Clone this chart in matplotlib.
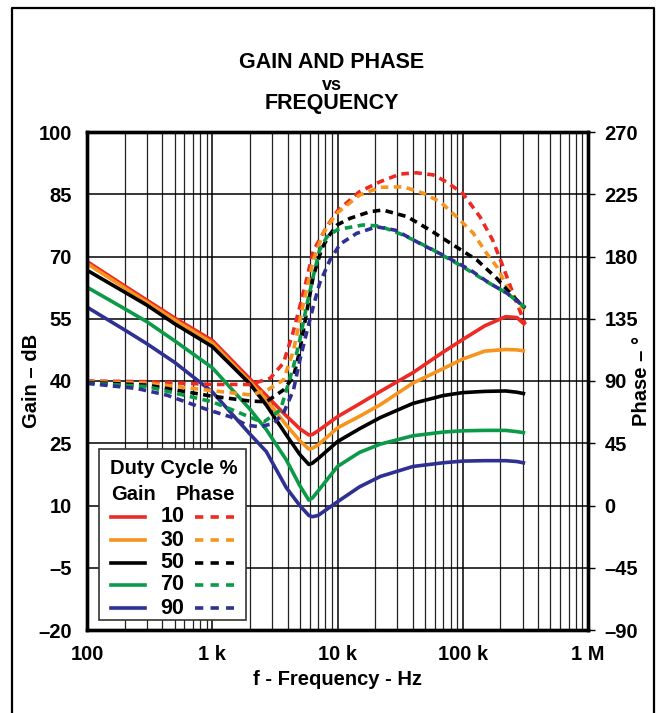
import matplotlib
matplotlib.use("Agg")
import matplotlib.pyplot as plt
from matplotlib.lines import Line2D
from matplotlib.patches import Rectangle
from matplotlib.ticker import FixedLocator, FixedFormatter, NullFormatter, LogLocator

plt.rcParams["font.family"] = ["Liberation Sans", "DejaVu Sans"]
plt.rcParams["font.weight"] = "bold"

DUTY = ["10", "30", "50", "70", "90"]
COLORS = ["#ee2a24", "#f7941d", "#000000", "#0a9a48", "#2e3192"]

# gain curves (dB) -- one frequency grid for all five
GAIN_F = [100, 200, 300, 500, 1000, 2000, 2700, 3900, 5000, 5900, 6300, 7000,
          10000, 15000, 22000, 40000, 70000, 100000, 150000, 220000, 270000, 315000]
GAIN_10 = [68.8, 62.9, 59.5, 55.2, 49.8, 40.5, 36.5, 31.6, 28.5, 27.0, 27.1, 28.0,
           31.4, 34.5, 37.5, 42.0, 47.0, 50.0, 53.3, 55.5, 55.3, 53.5]
GAIN_30 = [68.3, 62.4, 59.0, 54.7, 49.2, 39.8, 35.5, 29.4, 25.6, 23.6, 23.8, 24.6,
           28.7, 31.5, 34.3, 39.5, 43.0, 45.3, 47.2, 47.6, 47.5, 47.2]
GAIN_50 = [66.7, 61.4, 58.3, 53.8, 48.3, 39.3, 34.2, 27.0, 22.3, 19.9, 20.2, 21.3,
           25.4, 28.5, 31.2, 34.6, 36.5, 37.2, 37.5, 37.6, 37.3, 36.9]
GAIN_70 = [62.6, 57.4, 54.3, 49.7, 43.2, 33.2, 28.3, 21.0, 14.8, 11.3, 11.8, 13.5,
           19.4, 22.8, 24.8, 26.8, 27.7, 28.0, 28.1, 28.1, 27.8, 27.5]
GAIN_90 = [57.8, 52.3, 49.0, 44.5, 37.4, 27.2, 23.0, 14.3, 10.0, 7.6, 7.3, 7.6,
           10.9, 14.5, 17.0, 19.4, 20.3, 20.7, 20.8, 20.8, 20.6, 20.2]

# phase curves (degrees)
PH_F_10 = [100, 300, 1000, 2000, 2900, 3700, 4400, 5000, 5650, 6400, 8200, 10000,
           15000, 21800, 31600, 42800, 58000, 74000, 100000, 137000, 173000,
           210000, 246000, 315000]
PH_10 = [90, 89.5, 87.5, 87.5, 92, 103, 124.6, 143.7, 163, 184, 201.5, 213,
         226.9, 234, 239.6, 240.5, 239, 234, 225.6, 208.8, 192, 172.6, 155.8, 131]

PH_F_30 = [100, 300, 1000, 2000, 2700, 3700, 4450, 5000, 5650, 6400, 7700, 9800,
           15000, 21800, 33600, 48000, 66000, 89000, 121000, 155000, 187000,
           226000, 286000, 315000]
PH_30 = [89.5, 88.5, 83, 80, 83, 90.7, 112, 134, 155.8, 177.4, 197, 211,
         224.4, 230, 230.4, 225.8, 219.6, 208.8, 197, 182.3, 172.6, 158, 143.7, 142]

PH_F_50 = [100, 300, 1000, 2000, 2700, 3700, 4450, 5000, 5650, 6400, 7500, 8700,
           10000, 12600, 18200, 23000, 36000, 55000, 84000, 130000, 187000,
           253000, 315000]
PH_50 = [89, 87, 79, 75.5, 75, 83.5, 93, 112, 139, 165.4, 186, 196,
         203, 207.6, 212.4, 213.6, 208.8, 199, 188.3, 177.4, 164.2, 151, 142.7]

PH_F_70 = [100, 300, 1000, 1570, 2270, 2600, 3500, 4450, 5000, 5650, 6400, 7200,
           8200, 10000, 16000, 21800, 33600, 55000, 100000, 164000, 226000, 315000]
PH_70 = [88.5, 86, 75, 67.8, 61.8, 60.6, 69, 100.4, 119.6, 143.7, 165.4, 184.7,
         194, 199.5, 202.8, 202, 195.5, 185.9, 172.6, 160.6, 153.4, 143.2]

PH_F_90 = [100, 250, 433, 900, 1400, 1900, 2400, 3100, 3700, 4450, 5000, 5650,
           6400, 7200, 8700, 10500, 14200, 20500, 29000, 48000, 74000, 115000,
           164000, 226000, 315000]
PH_90 = [88.3, 84.6, 79.8, 69.5, 64.1, 58, 56.9, 59.4, 66.7, 83.5, 105, 124.6,
         143.7, 160.6, 177.4, 189, 196.7, 201.5, 199, 188.3, 179.8, 170.2,
         160.6, 153.4, 143.2]

GAINS = [GAIN_10, GAIN_30, GAIN_50, GAIN_70, GAIN_90]
PHASES = [(PH_F_10, PH_10), (PH_F_30, PH_30), (PH_F_50, PH_50),
          (PH_F_70, PH_70), (PH_F_90, PH_90)]

GAIN_TICKS = [-20, -5, 10, 25, 40, 55, 70, 85, 100]
GAIN_LABELS = ["\u201320", "\u20135", "10", "25", "40", "55", "70", "85", "100"]
PHASE_TICKS = [-90, -45, 0, 45, 90, 135, 180, 225, 270]
PHASE_LABELS = ["\u201390", "\u201345", "0", "45", "90", "135", "180", "225", "270"]
FREQ_TICKS = [100, 1e3, 1e4, 1e5, 1e6]
FREQ_LABELS = ["100", "1 k", "10 k", "100 k", "1 M"]

LW = 2.6
DASH = (2.1, 1.5)
FS = 14.5

fig = plt.figure(figsize=(6.63, 7.13), dpi=100)
ax = fig.add_axes([87 / 663, 1 - 630 / 713, 501 / 663, 498 / 713])
ax2 = ax.twinx()

ax.set_xscale("log")
ax.set_xlim(100, 1e6)
ax.set_ylim(-20, 100)
ax2.set_ylim(-90, 270)

ax.xaxis.set_major_locator(FixedLocator(FREQ_TICKS))
ax.xaxis.set_major_formatter(FixedFormatter(FREQ_LABELS))
ax.xaxis.set_minor_locator(LogLocator(base=10, subs=range(2, 10)))
ax.xaxis.set_minor_formatter(NullFormatter())
ax.yaxis.set_major_locator(FixedLocator(GAIN_TICKS))
ax.yaxis.set_major_formatter(FixedFormatter(GAIN_LABELS))
ax2.yaxis.set_major_locator(FixedLocator(PHASE_TICKS))
ax2.yaxis.set_major_formatter(FixedFormatter(PHASE_LABELS))

ax.grid(True, which="major", color="black", lw=1.1)
ax.grid(True, which="minor", axis="x", color="#222222", lw=0.9)
ax.set_axisbelow(True)

ax.tick_params(axis="both", which="both", length=0, labelsize=FS)
ax.tick_params(axis="x", pad=11)
ax.tick_params(axis="y", pad=11)
ax2.tick_params(axis="y", length=5, width=1, direction="out", labelsize=FS, pad=7)

for a in (ax, ax2):
    for s in a.spines.values():
        s.set_linewidth(2.4)

for gain, color in zip(GAINS, COLORS):
    ax.plot(GAIN_F, gain, color=color, lw=LW, solid_capstyle="butt")
for (freq, phase), color in zip(PHASES, COLORS):
    ax2.plot(freq, phase, color=color, lw=LW, linestyle=(0, DASH),
             dash_capstyle="butt")

ax.set_xlabel("f - Frequency - Hz", fontsize=FS, fontweight="bold", labelpad=4)
ax.set_ylabel("Gain \u2013 dB", fontsize=FS, fontweight="bold")
ax.yaxis.set_label_coords(-0.092, 0.5)
ax2.set_ylabel("Phase \u2013 \u00b0", fontsize=FS, fontweight="bold")
ax2.yaxis.set_label_coords(1.088, 0.5)

# legend box
ax2.add_patch(Rectangle((0.024, 0.020), 0.293, 0.3435, transform=ax2.transAxes,
                        facecolor="white", edgecolor="#333333", lw=1.2, zorder=5))
ax2.text(0.1725, 0.3247, "Duty Cycle %", transform=ax2.transAxes, ha="center",
         va="center", fontsize=FS, fontweight="bold", zorder=6)
ax2.text(0.0473, 0.2711, "Gain", transform=ax2.transAxes, ha="left",
         va="center", fontsize=FS, fontweight="bold", zorder=6)
ax2.text(0.2966, 0.2711, "Phase", transform=ax2.transAxes, ha="right",
         va="center", fontsize=FS, fontweight="bold", zorder=6)
row_y = [0.2275, 0.1807, 0.1351, 0.0904, 0.0436]
for label, color, y in zip(DUTY, COLORS, row_y):
    ax2.add_line(Line2D([0.0473, 0.1158], [y, y], transform=ax2.transAxes,
                        color=color, lw=LW, zorder=6))
    ax2.add_line(Line2D([0.2156, 0.2934], [y, y], transform=ax2.transAxes,
                        color=color, lw=LW, linestyle=(0, (2.3, 2.0)), zorder=6))
    ax2.text(0.1709, y, label, transform=ax2.transAxes, ha="center",
             va="center", fontsize=15.5, fontweight="bold", zorder=6)

# title
fig.text(332 / 663, 1 - 63 / 713, "GAIN AND PHASE", ha="center", va="center",
         fontsize=15.5, fontweight="bold")
fig.text(332 / 663, 1 - 85 / 713, "vs", ha="center", va="center",
         fontsize=13, fontweight="bold")
fig.text(332 / 663, 1 - 104 / 713, "FREQUENCY", ha="center", va="center",
         fontsize=15.5, fontweight="bold")

# outer frame (open at the bottom)
fl, fr, ft = 12 / 663, 654 / 663, 1 - 8 / 713
fig.add_artist(Line2D([fl, fl, fr, fr], [0, ft, ft, 0], transform=fig.transFigure,
                      color="black", lw=1.6))

fig.savefig("out.png", dpi=100)
